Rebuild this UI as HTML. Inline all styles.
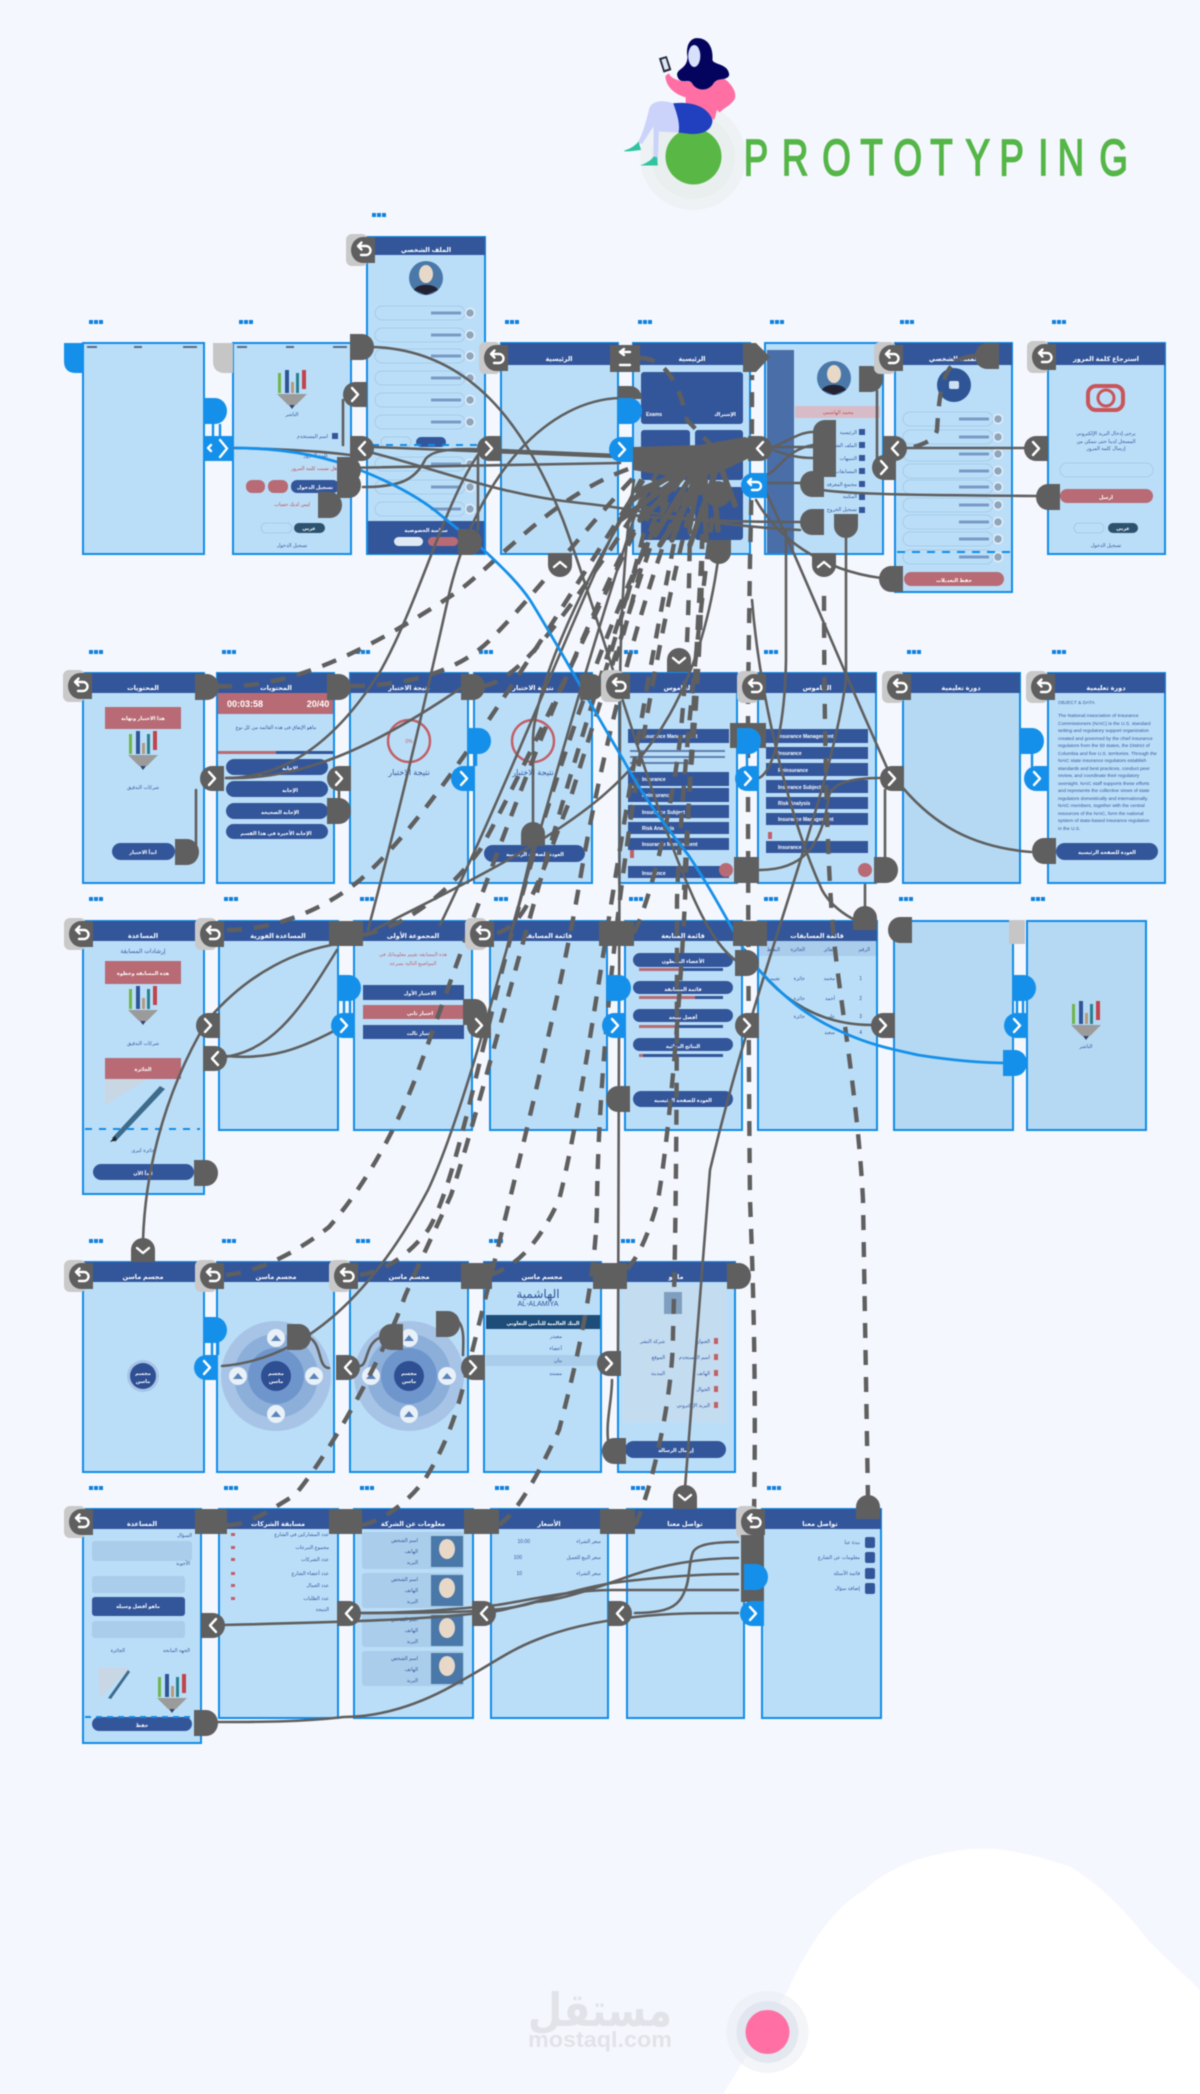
<!DOCTYPE html>
<html lang="en"><head><meta charset="utf-8"><title>Prototyping</title>
<style>
html,body{margin:0;padding:0;background:#F5F7FE}
svg{display:block;filter:blur(.55px)}
text{font-family:"Liberation Sans","DejaVu Sans",sans-serif}
.s{fill:#BBDEF8;stroke:#108CE8;stroke-width:2}
.h{fill:#33569B}
.p{fill:#33569B}
.r{fill:#B86B74}
.t{fill:#fff;font-size:6.5px;font-weight:700;text-anchor:middle}
.k{fill:#33569B;font-size:5px;text-anchor:end}
.w{fill:#fff;font-size:5px;font-weight:700;text-anchor:middle}
.c{fill:none;stroke:#5f5f5f;stroke-width:2.6;stroke-linecap:round}
.d{fill:none;stroke:#5f5f5f;stroke-width:4.4;stroke-dasharray:15 12}
.f{fill:none;stroke:#a5cbe8;stroke-width:1}
.l{fill:none;stroke:#fff;stroke-width:2.4;stroke-linecap:round;stroke-linejoin:round}
</style></head><body>
<svg xmlns="http://www.w3.org/2000/svg" width="1200" height="2094" viewBox="0 0 1200 2094">
<defs>
<g id="dots"><rect x="0" width="4" height="4" fill="#0f82e0"/><rect x="5" width="4" height="4" fill="#0f82e0"/><rect x="10" width="4" height="4" fill="#0f82e0"/></g>
<path id="nr" d="M0 0H12a12 13 0 0 1 0 26H0Z" fill="#5f5f5f"/>
<path id="nl" d="M24 0H12a12 13 0 0 0 0 26H24Z" fill="#5f5f5f"/>
<path id="nt" d="M0 24V12a12 12 0 0 1 24 0V24Z" fill="#5f5f5f"/>
<path id="nb" d="M0 0V12a12 12 0 0 0 24 0V0Z" fill="#5f5f5f"/>
<g id="chr"><path d="M12 0H24V25H12a12 12.5 0 0 1 0-25Z" fill="#5f5f5f"/><path class="l" d="M9 6l6 6.500-6 6.500"/></g>
<g id="chl"><path d="M12 0H0V25H12a12 12.500 0 0 0 0-25Z" fill="#5f5f5f"/><path class="l" d="M15 6l-6 6.500 6 6.500"/></g>
<g id="chd"><path d="M0 24V12a12 12 0 0 1 24 0V24Z" fill="#5f5f5f"/><path class="l" d="M6 10l6 5 6-5"/></g>
<g id="chu"><path d="M0 0V12a12 12 0 0 0 24 0V0Z" fill="#5f5f5f"/><path class="l" d="M6 14l6-5 6 5"/></g>
<g id="bk"><rect x="-5" y="-3" width="22" height="32" rx="6" fill="#c9c9c9"/><path d="M24 0H12a12 13 0 0 0 0 26H24Z" fill="#5f5f5f"/><path class="l" d="M7 9h8a4.500 4.500 0 0 1 0 9h-5M7 9l3.500-3.500M7 9l3.500 3.500" stroke-width="2"/></g>
<g id="bchr"><path d="M12 0H24V25H12a12 12.500 0 0 1 0-25Z" fill="#1590ea"/><path class="l" d="M10 6l6 6.500-6 6.500"/></g>
<path id="bd" d="M0 0H12a12 13 0 0 1 0 26H0Z" fill="#1590ea"/>
<g id="logo"><rect x="-14" y="4" width="3" height="20" fill="#6fb54a"/><rect x="-7" y="1" width="4" height="23" fill="#2f5597"/><rect x="-1" y="13" width="3" height="11" fill="#b59a7c"/><rect x="4" y="4" width="3" height="20" fill="#2a7f8f"/><rect x="10" y="1" width="4" height="19" fill="#c0444a"/><path d="M-15 25H15L4 36H-4Z" fill="#9b9b9b"/><path d="M-3 36H3L0 40Z" fill="#39456a"/></g>
<g id="fld"><rect class="f" width="90" height="14" rx="7"/><circle cx="95" cy="7" r="4.500" fill="#8ea6bd" stroke="#e4eef7" stroke-width="1.500"/><rect x="56" y="5.500" width="30" height="3" fill="#4c6da4" opacity=".6"/></g>
<g id="rings"><circle r="55" fill="#a7c4e6"/><circle r="42" fill="#8cafda"/><circle r="28" fill="#6f96cc"/><circle r="15" fill="#2f4f93"/><g fill="#e8f0f8"><circle cy="-38" r="9"/><circle cy="38" r="9"/><circle cx="-38" r="9"/><circle cx="38" r="9"/></g><g fill="#5b82ba"><path d="M-5 -35h10l-5 -6z"/><path d="M-5 41h10l-5 -6z"/><path d="M-43 3h10l-5 -6z"/><path d="M33 3h10l-5 -6z"/></g><text class="w" y="-1">مجسم</text><text class="w" y="7">ماسن</text></g>
</defs>

<rect width="1200" height="2094" fill="#F5F7FE"/>
<path d="M723 2094L788 1990C805 1950 835 1905 865 1890C885 1870 915 1858 949 1852C965 1849 980 1848 995 1849C1025 1852 1050 1860 1071 1867C1100 1885 1125 1910 1148 1940C1165 1958 1185 1975 1200 1990V2094Z" fill="#fff"/>

<!-- hero -->
<circle cx="693" cy="157" r="53" fill="#eef2f5"/><circle cx="693" cy="157" r="42" fill="#e9efee"/>
<circle cx="693.500" cy="156.500" r="28" fill="#59B845"/>
<g transform="translate(600 20) scale(.357 .333)">
<path d="M183 168L193 160C200 180 230 185 250 185L320 185L332 170C360 175 385 215 378 235C370 255 345 265 335 278L328 270L320 300L240 250L240 232C215 225 185 205 183 168Z" fill="#FF6FA3"/>
<path d="M205 250C170 238 145 245 138 265C128 310 120 340 105 370L118 372C132 350 140 335 150 320L150 420L162 420L165 335L220 338C225 310 215 280 205 250Z" fill="#CBD3FA"/>
<path d="M205 250C250 245 300 255 315 300C315 330 290 345 250 342L220 338C225 310 215 280 205 250Z" fill="#2040C0"/>
<path d="M68 392C90 385 100 375 108 365L115 390C100 392 85 396 68 394Z" fill="#2EC4A0"/><path d="M112 437C130 430 145 420 150 410L160 412L162 437Z" fill="#2EC4A0"/>
<path d="M265 55C300 50 318 80 315 120C318 135 360 130 362 165C355 185 330 170 318 190C305 215 270 215 258 190C250 175 225 195 217 170C210 145 245 150 245 110C240 80 250 60 265 55Z" fill="#04045E"/>
<ellipse cx="264" cy="108" rx="17" ry="33" fill="#d6e2fb"/>
<path d="M165 115L187 108L200 150L178 158Z" fill="#2a2a3a"/><path d="M172 119L184 115L193 146L181 150Z" fill="#dce6f5"/>
</g>
<g transform="scale(.72 1)" fill="#55B648" stroke="#55B648" stroke-width="1.700" font-size="51" font-weight="400"><text y="175" x="1033 1086 1142 1195 1241 1292 1341 1388 1442 1469 1527">PROTOTYPING</text></g>

<!-- dots -->
<g>
<use href="#dots" x="89" y="320"/><use href="#dots" x="239" y="320"/><use href="#dots" x="372" y="213"/><use href="#dots" x="505" y="320"/><use href="#dots" x="638" y="320"/><use href="#dots" x="770" y="320"/><use href="#dots" x="900" y="320"/><use href="#dots" x="1052" y="320"/>
<use href="#dots" x="89" y="650"/><use href="#dots" x="222" y="650"/><use href="#dots" x="356" y="650"/><use href="#dots" x="479" y="650"/><use href="#dots" x="624" y="650"/><use href="#dots" x="764" y="650"/><use href="#dots" x="907" y="650"/><use href="#dots" x="1052" y="650"/>
<use href="#dots" x="89" y="897"/><use href="#dots" x="224" y="897"/><use href="#dots" x="360" y="897"/><use href="#dots" x="494" y="897"/><use href="#dots" x="629" y="897"/><use href="#dots" x="764" y="897"/><use href="#dots" x="899" y="897"/><use href="#dots" x="1031" y="897"/>
<use href="#dots" x="89" y="1239"/><use href="#dots" x="222" y="1239"/><use href="#dots" x="356" y="1239"/><use href="#dots" x="489" y="1239"/><use href="#dots" x="621" y="1239"/>
<use href="#dots" x="89" y="1486"/><use href="#dots" x="224" y="1486"/><use href="#dots" x="360" y="1486"/><use href="#dots" x="495" y="1486"/><use href="#dots" x="631" y="1486"/><use href="#dots" x="767" y="1486"/>
</g>

<!-- ROW 1 screens -->
<rect class="s" x="83" y="343" width="121" height="211"/><rect x="87" y="346" width="10" height="2" fill="#5a6a86"/><rect x="134" y="346" width="8" height="2" fill="#5a6a86"/><rect x="183" y="346" width="14" height="2" fill="#5a6a86"/>
<rect class="s" x="233" y="343" width="118" height="211"/><rect x="237" y="346" width="10" height="2" fill="#5a6a86"/><rect x="286" y="346" width="8" height="2" fill="#5a6a86"/><rect x="333" y="346" width="14" height="2" fill="#5a6a86"/>
<use href="#logo" x="292" y="369"/><text class="k" style="text-anchor:middle" x="292" y="416">الناشر</text>
<rect x="332" y="433" width="6" height="6" fill="#33569B"/><text class="k" x="328" y="438">اسم المستخدم</text><text class="k" x="328" y="457">كلمة المرور</text>
<text class="k" style="fill:#c24a4a" x="337" y="470">هل نسيت كلمة المرور</text>
<rect class="r" x="246" y="480" width="19" height="13" rx="6"/><rect class="r" x="268" y="480" width="20" height="13" rx="6"/><rect class="p" x="291" y="480" width="48" height="13" rx="6"/><text class="w" x="315" y="489">تسجيل الدخول</text>
<text class="k" style="fill:#c24a4a" x="310" y="506">ليس لديك حساب</text>
<rect class="f" x="261" y="523" width="31" height="10" rx="5" stroke="#4a6a9a"/><rect x="294" y="523" width="31" height="10" rx="5" fill="#2c5270"/><text class="w" x="309" y="530">عربي</text>
<text class="k" style="text-anchor:middle" x="292" y="547">تسجيل الدخول</text>

<rect class="s" x="367" y="237" width="118" height="317"/><rect class="h" x="367" y="237" width="118" height="18"/><text class="t" x="426" y="252">الملف الشخصي</text>
<circle cx="426" cy="278" r="17" fill="#4a78a8"/><ellipse cx="426" cy="274" rx="7" ry="9" fill="#e8d8c8"/><path d="M414 290c3-7 21-7 24 0l-12 5z" fill="#223"/>
<use href="#fld" x="375" y="306"/><use href="#fld" x="375" y="328"/><use href="#fld" x="375" y="349"/><use href="#fld" x="375" y="371"/><use href="#fld" x="375" y="393"/><use href="#fld" x="375" y="415"/><use href="#fld" x="375" y="457"/><use href="#fld" x="375" y="480"/><use href="#fld" x="375" y="502"/>
<rect class="f" x="381" y="437" width="30" height="10" rx="5"/><rect class="p" x="416" y="437" width="30" height="10" rx="5"/>
<path d="M372 445H480" stroke="#108CE8" stroke-width="2" stroke-dasharray="7 7"/>
<rect x="368" y="521" width="116" height="33" fill="#33569B"/><text class="w" x="426" y="532">سياسة الخصوصية</text><rect x="394" y="537" width="29" height="9" rx="4.500" fill="#dfe9f4"/><rect x="428" y="537" width="30" height="9" rx="4.500" fill="#b86b74"/>

<rect class="s" x="501" y="343" width="117" height="211"/><rect class="h" x="501" y="343" width="117" height="22"/><text class="t" x="559" y="361">الرئيسية</text>

<rect class="s" x="633" y="343" width="117" height="211"/><rect class="h" x="633" y="343" width="117" height="22"/><text class="t" x="692" y="361">الرئيسية</text>
<rect class="p" x="641" y="372" width="102" height="52" rx="3"/><text class="w" x="725" y="416">الإشتراك</text><text class="w" x="654" y="416">Exams</text>
<rect class="p" x="641" y="430" width="49" height="50" rx="3"/><rect class="p" x="695" y="430" width="48" height="50" rx="3"/>
<rect class="p" x="641" y="487" width="49" height="53" rx="3"/><rect class="p" x="695" y="487" width="48" height="53" rx="3"/>

<rect class="s" x="765" y="343" width="118" height="211"/><rect x="767" y="350" width="27" height="203" fill="#4a6ea8"/>
<circle cx="834" cy="378" r="17" fill="#4a78a8"/><ellipse cx="834" cy="374" rx="7" ry="9" fill="#e8d8c8"/><path d="M822 390c3-7 21-7 24 0l-12 5z" fill="#223"/>
<rect x="795" y="406" width="85" height="12" fill="#d7bcc8"/><text class="k" style="fill:#c24a4a;text-anchor:middle" x="838" y="414">محمد الهاشمي</text>
<g class="k"><text class="k" x="857" y="434">الرئيسية</text><text class="k" x="857" y="447">الملف الشخصي</text><text class="k" x="857" y="460">التنبيهات</text><text class="k" x="857" y="473">المسابقات</text><text class="k" x="857" y="486">مجتمع المعرفة</text><text class="k" x="857" y="498">المكتبة</text><text class="k" x="857" y="511">تسجيل الخروج</text></g>
<g fill="#33569B"><rect x="859" y="429" width="6" height="6"/><rect x="859" y="442" width="6" height="6"/><rect x="859" y="455" width="6" height="6"/><rect x="859" y="468" width="6" height="6"/><rect x="859" y="481" width="6" height="6"/><rect x="859" y="494" width="6" height="6"/><rect x="859" y="507" width="6" height="6"/></g>

<rect class="s" x="895" y="343" width="117" height="249"/><rect class="h" x="895" y="343" width="117" height="22"/><text class="t" x="954" y="361">الملف الشخصي</text>
<circle cx="954" cy="385" r="17" fill="#2f5597"/><rect x="949" y="381" width="10" height="8" rx="2" fill="#cfe0f2"/>
<use href="#fld" x="903" y="412"/><use href="#fld" x="903" y="430"/><use href="#fld" x="903" y="447"/><use href="#fld" x="903" y="464"/><use href="#fld" x="903" y="480"/><use href="#fld" x="903" y="498"/><use href="#fld" x="903" y="515"/><use href="#fld" x="903" y="532"/><use href="#fld" x="903" y="550"/>
<path d="M897 552H1010" stroke="#108CE8" stroke-width="2" stroke-dasharray="8 7"/>
<rect class="r" x="904" y="572" width="100" height="14" rx="7"/><text class="w" x="954" y="582">حفظ التعديلات</text>

<rect class="s" x="1048" y="343" width="117" height="211"/><rect class="h" x="1048" y="343" width="117" height="22"/><text class="t" x="1106" y="361">استرجاع كلمة المرور</text>
<rect x="1088" y="386" width="35" height="24" rx="8" fill="none" stroke="#c8555a" stroke-width="4"/><circle cx="1106" cy="398" r="8" fill="none" stroke="#c8555a" stroke-width="3"/>
<text class="k" style="text-anchor:middle" x="1106" y="435">يرجى إدخال البريد الإلكتروني</text><text class="k" style="text-anchor:middle" x="1106" y="443">المسجل لدينا حتى نتمكن من</text><text class="k" style="text-anchor:middle" x="1106" y="450">إرسال كلمة المرور</text>
<rect class="f" x="1060" y="463" width="93" height="14" rx="7"/><rect class="r" x="1060" y="489" width="93" height="14" rx="7"/><text class="w" x="1106" y="499">ارسل</text>
<rect class="f" x="1074" y="523" width="30" height="10" rx="5"/><rect x="1108" y="523" width="30" height="10" rx="5" fill="#2c5270"/><text class="w" x="1123" y="530">عربي</text><text class="k" style="text-anchor:middle" x="1106" y="547">تسجيل الدخول</text>

<!-- ROW 2 screens -->
<rect class="s" x="83" y="673" width="121" height="210"/><rect class="h" x="83" y="673" width="121" height="20"/><text class="t" x="143" y="690">المحتويات</text>
<rect class="r" x="105" y="707" width="76" height="22"/><text class="w" x="143" y="720">هذا الاختبار ونهاية</text><use href="#logo" x="143" y="730"/><text class="k" style="text-anchor:middle" x="143" y="789">شركات التدقيق</text>
<rect class="p" x="112" y="843" width="63" height="17" rx="8.500"/><text class="w" x="143" y="854">ابدأ الاختبار</text>

<rect class="s" x="217" y="673" width="117" height="210"/><rect class="h" x="217" y="673" width="117" height="20"/><text class="t" x="276" y="690">المحتويات</text>
<rect class="r" x="218" y="693" width="115" height="21"/><text class="w" style="font-size:9px" x="245" y="707">00:03:58</text><text class="w" style="font-size:9px" x="318" y="707">20/40</text>
<text class="k" style="text-anchor:middle" x="276" y="729">ماهو الإنفاق في هذه القائمة من كل نوع</text>
<rect x="218" y="751" width="115" height="3" fill="#33569B"/><rect x="218" y="751" width="58" height="3" fill="#b86b74"/>
<rect class="p" x="226" y="759" width="102" height="16" rx="8"/><rect class="p" x="226" y="781" width="102" height="16" rx="8"/><rect class="p" x="226" y="803" width="102" height="16" rx="8"/><rect class="p" x="226" y="824" width="102" height="15" rx="7.500"/>
<text class="w" x="290" y="770">الإجابة</text><text class="w" x="290" y="792">الإجابة</text><text class="w" x="280" y="814">الإجابة الصحيحة</text><text class="w" x="276" y="835">الإجابة الأخيرة في هذا القسم</text>

<rect class="s" x="350" y="673" width="118" height="210"/><rect class="h" x="350" y="673" width="118" height="20"/><text class="t" x="409" y="690">نتيجة الاختبار</text>
<circle cx="409" cy="741" r="21" fill="none" stroke="#c25f66" stroke-width="2.500"/><text class="k" style="fill:#c25f66;text-anchor:middle" x="409" y="743">0%</text><text style="fill:#33569B;font-size:8px;text-anchor:middle" x="409" y="775">نتيجة الاختبار</text>

<rect class="s" x="474" y="673" width="118" height="210"/><rect class="h" x="474" y="673" width="118" height="20"/><text class="t" x="533" y="690">نتيجة الاختبار</text>
<circle cx="533" cy="741" r="21" fill="none" stroke="#c25f66" stroke-width="2.500"/><text style="fill:#33569B;font-size:8px;text-anchor:middle" x="533" y="775">نتيجة الاختبار</text>
<rect class="p" x="484" y="845" width="101" height="17" rx="8.500"/><text class="w" x="535" y="856">العودة للصفحة الرئيسية</text>

<rect class="s" x="619" y="673" width="118" height="210"/><rect class="h" x="619" y="673" width="118" height="20"/><text class="t" x="678" y="690">القاموس</text>
<g fill="#33569B"><rect x="628" y="729" width="101" height="14"/><rect x="628" y="772" width="101" height="14"/><rect x="628" y="788" width="101" height="14"/><rect x="628" y="805" width="101" height="13"/><rect x="628" y="822" width="101" height="12"/><rect x="628" y="838" width="101" height="12"/><rect x="628" y="866" width="101" height="12"/></g>
<g fill="#5f7fb0"><rect x="630" y="750" width="95" height="2"/><rect x="630" y="756" width="95" height="2"/><rect x="630" y="762" width="60" height="2"/></g>
<g style="font-size:5px" fill="#fff" font-weight="700"><text x="642" y="738">Insurance Management</text><text x="642" y="781">Insurance</text><text x="642" y="797">Reinsurance</text><text x="642" y="814">Insurance Subject</text><text x="642" y="830">Risk Analysis</text><text x="642" y="846">Insurance Management</text><text x="642" y="875">Insurance</text></g>
<rect x="630" y="850" width="4" height="8" fill="#c25f66"/><circle cx="726" cy="870" r="7" fill="#b86b74"/>

<rect class="s" x="758" y="673" width="118" height="210"/><rect class="h" x="758" y="673" width="118" height="20"/><text class="t" x="817" y="690">القاموس</text>
<g fill="#33569B"><rect x="766" y="729" width="102" height="14"/><rect x="766" y="747" width="102" height="12"/><rect x="766" y="763" width="102" height="13"/><rect x="766" y="780" width="102" height="13"/><rect x="766" y="797" width="102" height="12"/><rect x="766" y="813" width="102" height="12"/><rect x="766" y="841" width="102" height="12"/></g>
<g style="font-size:5px" fill="#fff" font-weight="700"><text x="778" y="738">Insurance Management</text><text x="778" y="755">Insurance</text><text x="778" y="772">Reinsurance</text><text x="778" y="789">Insurance Subject</text><text x="778" y="805">Risk Analysis</text><text x="778" y="821">Insurance Management</text><text x="778" y="849">Insurance</text></g>
<rect x="768" y="832" width="4" height="7" fill="#c25f66"/><circle cx="865" cy="870" r="7" fill="#b86b74"/>

<rect class="s" x="903" y="673" width="117" height="210" style="fill:#B5D9F3"/><rect class="h" x="903" y="673" width="117" height="20"/><text class="t" x="961" y="690">دورة تعليمية</text>

<rect class="s" x="1048" y="673" width="117" height="210"/><rect class="h" x="1048" y="673" width="117" height="20"/><text class="t" x="1106" y="690">دورة تعليمية</text>
<g fill="#33569B" font-size="4.800"><text x="1058" y="704">OBJECT &amp; DATA</text><text x="1058" y="717">The National Association of Insurance</text><text x="1058" y="725">Commissioners (NAIC) is the U.S. standard</text><text x="1058" y="732">setting and regulatory support organization</text><text x="1058" y="740">created and governed by the chief insurance</text><text x="1058" y="747">regulators from the 50 states, the District of</text><text x="1058" y="755">Columbia and five U.S. territories. Through the</text><text x="1058" y="762">NAIC state insurance regulators establish</text><text x="1058" y="770">standards and best practices, conduct peer</text><text x="1058" y="777">review, and coordinate their regulatory</text><text x="1058" y="785">oversight. NAIC staff supports these efforts</text><text x="1058" y="792">and represents the collective views of state</text><text x="1058" y="800">regulators domestically and internationally.</text><text x="1058" y="807">NAIC members, together with the central</text><text x="1058" y="815">resources of the NAIC, form the national</text><text x="1058" y="822">system of state-based insurance regulation</text><text x="1058" y="830">in the U.S.</text></g>
<rect class="p" x="1056" y="843" width="102" height="17" rx="8.500"/><text class="w" x="1107" y="854">العودة للصفحة الرئيسية</text>

<!-- ROW 3 screens -->
<rect class="s" x="83" y="921" width="121" height="273"/><rect class="h" x="83" y="921" width="121" height="20"/><text class="t" x="143" y="938">المساعدة</text>
<text style="fill:#33569B;font-size:6px;text-anchor:middle" x="143" y="953">إرشادات المسابقة</text>
<rect class="r" x="105" y="961" width="76" height="23"/><text class="w" x="143" y="975">هذه المسابقة وخطوة</text><use href="#logo" x="143" y="985"/><text class="k" style="text-anchor:middle" x="143" y="1045">شركات التدقيق</text>
<rect class="r" x="105" y="1058" width="76" height="21"/><text class="w" x="143" y="1071">الجائزة</text>
<path d="M105 1079H148L105 1105Z" fill="#c9d6e4"/><path d="M112 1138L160 1086L165 1089L115 1142Z" fill="#3d6c8c"/><path d="M110 1142L115 1136L117 1140Z" fill="#222"/>
<path d="M85 1129H200" stroke="#108CE8" stroke-width="2" stroke-dasharray="7 7"/><text class="k" style="text-anchor:middle" x="143" y="1152">جائزة كبرى</text>
<rect class="p" x="93" y="1164" width="101" height="16" rx="8"/><text class="w" x="143" y="1175">ابدأ الآن</text>

<rect class="s" x="219" y="921" width="119" height="209"/><rect class="h" x="219" y="921" width="119" height="20"/><text class="t" x="278" y="938">المساعدة الفورية</text>
<rect class="s" x="354" y="921" width="118" height="209"/><rect class="h" x="354" y="921" width="118" height="20"/><text class="t" x="413" y="938">المجموعة الأولى</text>
<text class="k" style="fill:#c25f66;text-anchor:middle" x="413" y="956">هذه المسابقة تقييم معلوماتك في</text><text class="k" style="fill:#c25f66;text-anchor:middle" x="413" y="965">المواضيع التالية بسرعة</text>
<rect class="p" x="363" y="985" width="101" height="15"/><rect class="r" x="363" y="1005" width="101" height="14"/><rect class="p" x="363" y="1025" width="101" height="14"/>
<text class="w" x="420" y="995">الاختبار الأول</text><text class="w" x="420" y="1015">اختبار ثاني</text><text class="w" x="420" y="1035">اختبار ثالث</text>

<rect class="s" x="490" y="921" width="117" height="209"/><rect class="h" x="490" y="921" width="117" height="20"/><text class="t" x="548" y="938">قائمة المسابقة</text>

<rect class="s" x="625" y="921" width="117" height="209"/><rect class="h" x="625" y="921" width="117" height="20"/><text class="t" x="683" y="938">قائمة المتابعة</text>
<rect class="p" x="633" y="953" width="100" height="14" rx="7"/><rect class="p" x="633" y="981" width="100" height="13" rx="6.500"/><rect class="p" x="633" y="1009" width="100" height="13" rx="6.500"/><rect class="p" x="633" y="1038" width="100" height="13" rx="6.500"/>
<text class="w" x="683" y="963">الأعضاء النشطون</text><text class="w" x="683" y="991">قائمة المسابقة</text><text class="w" x="683" y="1019">أفضل نتيجة</text><text class="w" x="683" y="1048">النتائج النهائية</text>
<rect x="639" y="968" width="84" height="3" fill="#33569B"/><rect x="639" y="968" width="42" height="3" fill="#b86b74"/><rect x="639" y="996" width="84" height="3" fill="#33569B"/><rect x="639" y="996" width="56" height="3" fill="#b86b74"/><rect x="639" y="1025" width="84" height="3" fill="#33569B"/><rect x="639" y="1025" width="40" height="3" fill="#b86b74"/><rect x="639" y="1054" width="84" height="3" fill="#33569B"/><rect x="639" y="1054" width="4" height="3" fill="#b86b74"/>
<rect class="p" x="633" y="1091" width="100" height="16" rx="8"/><text class="w" x="683" y="1102">العودة للصفحة الرئيسية</text>

<rect class="s" x="758" y="921" width="119" height="209"/><rect class="h" x="758" y="921" width="119" height="20"/><text class="t" x="817" y="938">قائمة المسابقات</text>
<rect x="759" y="941" width="117" height="15" fill="#a9cdea"/>
<g class="k"><text class="k" x="870" y="951">الرقم</text><text class="k" x="835" y="951">الفائز</text><text class="k" x="805" y="951">الجائزة</text><text class="k" x="780" y="951">النقاط</text><text class="k" x="862" y="980">1</text><text class="k" x="835" y="980">محمد</text><text class="k" x="805" y="980">جائزة</text><text class="k" x="780" y="980">تقييم</text><text class="k" x="862" y="1000">2</text><text class="k" x="835" y="1000">أحمد</text><text class="k" x="805" y="1000">جائزة</text><text class="k" x="862" y="1018">3</text><text class="k" x="835" y="1018">علي</text><text class="k" x="805" y="1018">جائزة</text><text class="k" x="862" y="1034">4</text><text class="k" x="835" y="1034">سعيد</text></g>

<rect class="s" x="894" y="921" width="119" height="209" style="fill:#B5D9F3"/>
<rect class="s" x="1027" y="921" width="119" height="209" style="fill:#B5D9F3"/><use href="#logo" x="1086" y="1000"/><text class="k" style="text-anchor:middle" x="1086" y="1048">الناشر</text>

<!-- ROW 4 screens -->
<rect class="s" x="83" y="1262" width="121" height="210"/><rect class="h" x="83" y="1262" width="121" height="20"/><text class="t" x="143" y="1279">مجسم ماسن</text>
<circle cx="143" cy="1376" r="16" fill="#a7c4e6"/><circle cx="143" cy="1376" r="13" fill="#2f4f93"/><text class="w" x="143" y="1375">مجسم</text><text class="w" x="143" y="1383">ماسن</text>
<rect class="s" x="217" y="1262" width="117" height="210"/><rect class="h" x="217" y="1262" width="117" height="20"/><text class="t" x="276" y="1279">مجسم ماسن</text>
<use href="#rings" x="276" y="1376"/>
<rect class="s" x="350" y="1262" width="118" height="210"/><rect class="h" x="350" y="1262" width="118" height="20"/><text class="t" x="409" y="1279">مجسم ماسن</text>
<use href="#rings" x="409" y="1376"/>
<rect class="s" x="484" y="1262" width="117" height="210"/><rect class="h" x="484" y="1262" width="117" height="20"/><text class="t" x="542" y="1279">مجسم ماسن</text>
<text style="fill:#2f5597;font-size:12px;text-anchor:middle" x="538" y="1298">الهاشمية</text><text style="fill:#2f5597;font-size:7px;text-anchor:middle" x="538" y="1306">AL-ALAMIYA</text>
<rect x="486" y="1315" width="114" height="14" fill="#1e4d7a"/><text class="w" x="543" y="1325">البنك العالمية للتأمين التعاوني</text>
<rect x="486" y="1355" width="114" height="11" fill="#a9cdea"/>
<text class="k" x="562" y="1338">مصدر</text><text class="k" x="562" y="1350">أعضاء</text><text class="k" x="562" y="1362">بيان</text><text class="k" x="562" y="1375">مستند</text>
<rect class="s" x="618" y="1262" width="117" height="210"/><rect class="h" x="618" y="1262" width="117" height="20"/><text class="t" x="676" y="1279">ماهو</text>
<rect x="623" y="1285" width="103" height="137" fill="#c4dcf0"/><rect x="664" y="1292" width="18" height="22" fill="#7f9fbf"/>
<g class="k"><text class="k" x="710" y="1343">العنوان</text><text class="k" x="710" y="1359">اسم المستخدم</text><text class="k" x="710" y="1375">الهاتف</text><text class="k" x="710" y="1391">الجوال</text><text class="k" x="710" y="1407">البريد الإلكتروني</text><text class="k" x="665" y="1343">شركة النشر</text><text class="k" x="665" y="1359">الموقع</text><text class="k" x="665" y="1375">المدينة</text></g>
<g fill="#c25f66"><rect x="714" y="1338" width="4" height="6"/><rect x="714" y="1354" width="4" height="6"/><rect x="714" y="1370" width="4" height="6"/><rect x="714" y="1386" width="4" height="6"/><rect x="714" y="1402" width="4" height="6"/></g>
<rect class="p" x="625" y="1441" width="101" height="17" rx="8.500"/><text class="w" x="676" y="1452">إرسال الرسالة</text>

<!-- ROW 5 screens -->
<rect class="s" x="83" y="1509" width="118" height="234"/><rect class="h" x="83" y="1509" width="118" height="20"/><text class="t" x="142" y="1526">المساعدة</text>
<text class="k" x="192" y="1537">السؤال</text><rect x="92" y="1541" width="100" height="20" rx="3" fill="#a9cdea"/><text class="k" x="190" y="1565">الأجوبة</text>
<rect x="92" y="1576" width="93" height="17" rx="3" fill="#a9cdea"/><rect class="p" x="92" y="1597" width="93" height="19" rx="3"/><text class="w" x="138" y="1608">ماهو أفضل وسيلة</text><rect x="92" y="1621" width="93" height="17" rx="3" fill="#a9cdea"/>
<text class="k" x="190" y="1652">الجهة المانحة</text><text class="k" x="125" y="1652">الجائزة</text><use href="#logo" x="172" y="1673"/><path d="M98 1668L130 1668L100 1698Z" fill="#c9d6e4"/><path d="M108 1698L128 1670L130 1672L111 1699Z" fill="#3d6c8c"/>
<rect class="p" x="92" y="1717" width="100" height="14" rx="7"/><text class="w" x="142" y="1727">حفظ</text><path d="M85 1717H200" stroke="#108CE8" stroke-width="2" stroke-dasharray="6 5"/>

<rect class="s" x="219" y="1509" width="119" height="209"/><rect class="h" x="219" y="1509" width="119" height="20"/><text class="t" x="278" y="1526">مسابقة الشركات</text>
<g class="k"><text class="k" x="329" y="1536">عدد المشاركين في الشارع</text><text class="k" x="329" y="1549">مجموع التبرعات</text><text class="k" x="329" y="1561">عدد الشركات</text><text class="k" x="329" y="1575">عدد أعضاء الشارع</text><text class="k" x="329" y="1587">عدد العمال</text><text class="k" x="329" y="1600">عدد الطلبات</text><text class="k" x="329" y="1611">النتيجة</text></g>
<g fill="#c25f66"><rect x="231" y="1533" width="4" height="3"/><rect x="231" y="1546" width="4" height="3"/><rect x="231" y="1558" width="4" height="3"/><rect x="231" y="1572" width="4" height="3"/><rect x="231" y="1584" width="4" height="3"/><rect x="231" y="1597" width="4" height="3"/></g>

<rect class="s" x="354" y="1509" width="119" height="209"/><rect class="h" x="354" y="1509" width="119" height="20"/><text class="t" x="413" y="1526">معلومات عن الشركة</text>
<g fill="#a9cdea"><rect x="362" y="1532" width="102" height="37" rx="3"/><rect x="362" y="1573" width="102" height="35" rx="3"/><rect x="362" y="1612" width="102" height="35" rx="3"/><rect x="362" y="1651" width="102" height="35" rx="3"/></g>
<g fill="#4a78a8"><rect x="431" y="1536" width="32" height="31"/><rect x="431" y="1575" width="32" height="31"/><rect x="431" y="1615" width="32" height="31"/><rect x="431" y="1653" width="32" height="31"/></g>
<g fill="#e8d8c8"><ellipse cx="447" cy="1549" rx="8" ry="10"/><ellipse cx="447" cy="1588" rx="8" ry="10"/><ellipse cx="447" cy="1628" rx="8" ry="10"/><ellipse cx="447" cy="1666" rx="8" ry="10"/></g>
<g class="k"><text class="k" x="418" y="1542">اسم الشخص</text><text class="k" x="418" y="1553">الهاتف</text><text class="k" x="418" y="1564">البريد</text><text class="k" x="418" y="1581">اسم الشخص</text><text class="k" x="418" y="1592">الهاتف</text><text class="k" x="418" y="1603">البريد</text><text class="k" x="418" y="1621">اسم الشخص</text><text class="k" x="418" y="1632">الهاتف</text><text class="k" x="418" y="1643">البريد</text><text class="k" x="418" y="1660">اسم الشخص</text><text class="k" x="418" y="1671">الهاتف</text><text class="k" x="418" y="1682">البريد</text></g>

<rect class="s" x="491" y="1509" width="117" height="209"/><rect class="h" x="491" y="1509" width="117" height="20"/><text class="t" x="549" y="1526">الأسعار</text>
<g class="k"><text class="k" x="601" y="1543">سعر الشراء</text><text class="k" x="601" y="1559">سعر البيع للعميل</text><text class="k" x="601" y="1575">سعر الشراء</text><text class="k" x="530" y="1543">10.00</text><text class="k" x="522" y="1559">100</text><text class="k" x="522" y="1575">10</text></g>

<rect class="s" x="627" y="1509" width="117" height="209"/><rect class="h" x="627" y="1509" width="117" height="20"/><text class="t" x="685" y="1526">تواصل معنا</text>

<rect class="s" x="762" y="1509" width="119" height="209"/><rect class="h" x="762" y="1509" width="119" height="20"/><text class="t" x="820" y="1526">تواصل معنا</text>
<g class="k"><text class="k" x="860" y="1544">نبذة عنا</text><text class="k" x="860" y="1559">معلومات عن الشارع</text><text class="k" x="860" y="1575">قائمة الأسئلة</text><text class="k" x="860" y="1590">إضافة سؤال</text></g>
<g fill="#33569B"><rect x="865" y="1537" width="10" height="11" rx="2"/><rect x="865" y="1552" width="10" height="11" rx="2"/><rect x="865" y="1568" width="10" height="11" rx="2"/><rect x="865" y="1583" width="10" height="11" rx="2"/></g>

<!-- connectors: dashed -->
<g class="d">
<path class="d" d="M217 686C290 690 370 650 460 590C510 550 560 490 640 465"/>
<path class="d" d="M350 686C410 686 460 670 490 640C540 590 590 520 660 450"/>
<path class="d" d="M483 686C520 680 560 620 610 550C630 520 650 490 665 455"/>
<path class="d" d="M606 686C620 660 640 560 670 470"/>
<path class="d" d="M227 930C280 930 330 905 360 880C440 810 540 640 650 470"/>
<path class="d" d="M363 935C410 925 450 890 480 850C530 760 600 600 665 470"/>
<path class="d" d="M497 933C530 925 545 860 570 800C600 700 640 580 675 470"/>
<path class="d" d="M634 933C650 900 670 820 680 740C690 640 690 540 690 470"/>
<path class="d" d="M226 1275C260 1272 300 1250 329 1227C370 1180 400 1120 417 1074C470 930 560 660 660 480"/>
<path class="d" d="M227 1525C250 1525 270 1510 295 1495C340 1440 390 1340 405 1296C425 1250 440 1220 451 1195C490 1080 580 700 670 480"/>
<path class="d" d="M360 1275C380 1272 405 1260 428 1230C450 1195 470 1100 490 1020C530 850 600 620 680 480"/>
<path class="d" d="M490 1275C520 1265 540 1240 559 1200C590 1080 620 800 685 490"/>
<path class="d" d="M362 1525C385 1520 410 1500 425 1479C450 1440 460 1400 467 1372C510 1200 560 1000 580 880C600 760 640 600 680 500"/>
<path class="d" d="M499 1525C520 1510 540 1470 559 1430C580 1350 597 1270 597 1200C600 1000 640 700 695 490"/>
<path class="d" d="M627 1269C640 1255 650 1230 658 1200C670 1130 680 1000 685 900C690 750 700 600 705 480"/>
<path class="d" d="M635 1525C650 1495 673 1400 673 1334C677 1200 677 1000 677 900C680 800 700 600 715 500"/>
<path class="d" d="M754 1514C756 1400 754 1300 750 1200C748 1000 748 800 748 700L750 560C752 480 752 430 752 375"/>
<path class="d" d="M868 1500L863 1200C858 1100 840 1000 834 940C826 860 824 700 824 585"/>
<path class="d" d="M640 358C665 358 680 385 687 420L713 447"/>
<path class="d" d="M975 356C945 358 940 380 937 430C935 440 925 445 895 452"/>
<path class="d" d="M700 480C705 560 700 640 695 720C690 780 686 840 684 890"/>
<path class="d" d="M655 480C640 560 620 620 600 690"/>
</g>
<!-- hub -->
<path d="M633 447L700 445L745 437L773 447L745 460L720 472L680 478L633 470Z" fill="#5f5f5f"/>
<g fill="none" stroke="#5f5f5f" stroke-width="5.500" stroke-linecap="round">
<path d="M690 470L640 520M695 470L655 535M698 470L672 540M700 470L690 525M705 470L706 540M712 470L718 530M720 465L735 505M700 465L640 490M690 470L620 520M680 470L632 500M708 470L660 545M716 470L690 545"/>
</g>
<!-- connectors: solid -->
<g>
<path class="c" d="M235 448C280 449 320 451 350 455"/>
<path class="c" d="M373 347C470 350 525 425 563 520C600 620 650 800 690 890C705 925 720 950 738 962"/>
<path class="c" d="M620 398C550 400 480 470 450 590C430 680 400 810 368 930"/>
<path class="c" d="M226 778C300 778 350 720 381 670C420 600 445 500 480 452"/>
<path class="c" d="M226 778C300 780 370 750 464 686"/>
<path class="c" d="M373 447L617 457"/>
<path class="c" d="M373 453C440 470 500 495 580 503C650 510 700 525 800 530"/>
<path class="c" d="M343 468L620 463"/>
<path class="c" d="M363 487C400 487 415 480 425 460C432 448 460 448 500 450L617 455"/>
<path class="c" d="M343 400V445M478 455V530"/>
<path class="c" d="M634 480C625 540 620 620 620 700L618 1353"/>
<path class="c" d="M846 537V680C830 800 760 960 710 1170L685 1488"/>
<path class="c" d="M786 530V660C785 720 775 770 759 778"/>
<path class="c" d="M222 1366C300 1360 370 1300 428 1190C480 1080 540 800 640 500"/>
<path class="c" d="M143 1240C145 1180 160 1100 207 1021C250 970 300 950 337 944"/>
<path class="c" d="M210 1058C270 1058 300 1010 337 950"/>
<path class="c" d="M226 1056C270 1060 300 1050 345 1025"/>
<path class="c" d="M374 930C430 900 520 860 589 807C650 760 700 690 718 560"/>
<path class="c" d="M640 480C590 570 520 760 440 925"/>
<path class="c" d="M533 825V740C533 700 570 600 640 490"/>
<path class="c" d="M533 845C525 880 518 910 510 935"/>
<path class="c" d="M752 600C760 700 790 820 822 890C830 905 845 915 855 920"/>
<path class="c" d="M760 480C790 540 830 640 888 770"/>
<path class="c" d="M872 1025C810 1025 770 990 745 950"/>
<path class="c" d="M895 448H1025"/>
<path class="c" d="M822 490C850 494 900 495 1036 496"/>
<path class="c" d="M630 515C680 520 730 522 800 522"/>
<path class="c" d="M756 500C777 537 820 570 881 578"/>
<path class="c" d="M773 447C790 440 800 432 813 432M773 447H813M773 450C790 456 800 458 813 458M766 475C780 470 785 450 813 445M766 483H800"/>
<path class="c" d="M877 391V470M865 885V908"/>
<path class="c" d="M196 790V850M339 790V800"/>
<path class="c" d="M903 788C933 823 970 847 1031 852"/>
<path class="c" d="M759 870C800 870 822 850 829 795C835 780 860 778 881 778"/>
<path class="c" d="M885 790V860"/>
<path class="c" d="M310 1338C322 1345 318 1368 329 1368"/>
<path class="c" d="M379 1338C365 1345 368 1365 360 1366"/>
<path class="c" d="M459 1322C465 1330 463 1345 463 1355"/>
<path class="c" d="M612 1380C612 1400 606 1420 608 1440"/>
<path class="c" d="M738 1542C710 1542 697 1545 693 1552C688 1565 690 1580 685 1590C680 1605 670 1613 635 1613"/>
<path class="c" d="M738 1558C700 1558 660 1565 627 1577C590 1590 560 1600 536 1602C510 1610 480 1613 360 1613"/>
<path class="c" d="M738 1574C690 1574 650 1578 612 1583C570 1590 530 1605 497 1611C450 1617 400 1621 222 1625"/>
<path class="c" d="M738 1590H612C570 1590 530 1600 497 1605C450 1610 400 1613 360 1613"/>
<path class="c" d="M738 1613C700 1613 670 1613 635 1617C590 1622 560 1630 536 1640C510 1650 490 1665 459 1682C420 1705 380 1717 344 1717C300 1722 260 1722 218 1722"/>
</g>
<g fill="none" stroke="#1590ea" stroke-width="2.400"><path d="M213 424V436M220 424V436M344 1000V1013M350 1000V1013M619 1000V1013M1017 1000V1013M1023 1000V1013M212 1342V1355M218 1342V1355M476 754V766M747 753V767M1032 753V767M750 1590V1601M756 1590V1601"/></g>
<path d="M235 448C290 448 330 458 360 470C390 482 420 497 443 517C465 535 478 545 487 553C505 570 520 585 530 600C555 640 585 695 624 761C645 800 665 825 689 856C715 895 735 935 750 960C785 1000 810 1018 842 1032C870 1045 895 1050 918 1055C950 1060 980 1063 1008 1063" fill="none" stroke="#1590ea" stroke-width="2.800"/>

<!-- light tabs -->
<path d="M213 343H233V373H225Q213 373 213 361Z" fill="#c6c6c6"/>
<path d="M64 343H83V373H76Q64 373 64 361Z" fill="#1590ea"/>
<rect x="1009" y="920" width="16" height="24" fill="#c6c6c6"/>

<!-- blue hotspots -->
<use href="#bd" x="203" y="398"/><rect x="203" y="436" width="31" height="25" fill="#1590ea"/><path class="l" d="M220 440l7 8.500-7 8.500"/><path class="l" d="M211 445l-3 3 3 3" stroke-width="1.200"/>
<path d="M618 386H630a12 13 0 0 1 12 13V399H618Z" fill="#5f5f5f"/><use href="#bd" x="618" y="398"/><use href="#bchr" x="609" y="437"/>
<use href="#bd" x="467" y="728"/><use href="#bchr" x="451" y="766"/>
<rect x="730" y="723" width="36" height="25" fill="#5f5f5f"/><use href="#bd" x="737" y="728"/><use href="#bchr" x="735" y="766"/>
<use href="#bd" x="1020" y="728"/><use href="#bchr" x="1024" y="766"/>
<use href="#bd" x="337" y="975"/><use href="#bchr" x="331" y="1013"/>
<use href="#bd" x="607" y="975"/><use href="#bchr" x="602" y="1013"/>
<use href="#bd" x="1012" y="975"/><use href="#bchr" x="1004" y="1013"/>
<use href="#bd" x="1003" y="1050"/>
<use href="#bd" x="203" y="1317"/><use href="#bchr" x="194" y="1355"/>
<g><path d="M753 473H767V498H753a12 12.500 0 0 1 0-25Z" fill="#1590ea"/><path class="l" d="M748 482h9a4 4 0 0 1 0 8h-5M748 482l3-3M748 482l3 3" stroke-width="1.800"/></g>

<!-- gray nodes row 1 -->
<use href="#nr" x="350" y="334"/><use href="#chr" x="343" y="382"/><use href="#chl" x="350" y="436"/><use href="#chr" x="477" y="436"/>
<use href="#nr" x="337" y="457"/><use href="#nr" x="337" y="472"/><use href="#nr" x="318" y="492"/><use href="#nr" x="458" y="529"/>
<use href="#bk" x="351" y="237"/><use href="#bk" x="484" y="345"/>
<rect x="610" y="345" width="30" height="27" fill="#5f5f5f"/><path class="l" d="M620 352h10M620 352l4-3M620 352l4 3M620 365h10" stroke-width="1.800"/>
<path d="M743 343H756L770 357L756 372H743Z" fill="#5f5f5f"/>
<use href="#chl" x="748" y="436"/>
<path d="M825 420H836V477H813V432A12 12 0 0 1 825 420Z" fill="#5f5f5f"/>
<use href="#nl" x="800" y="471"/><use href="#nl" x="800" y="509"/><use href="#nb" x="834" y="514"/><use href="#chu" x="812" y="553"/>
<use href="#nr" x="859" y="366"/><use href="#bk" x="879" y="345"/><use href="#nl" x="975" y="343"/><path class="c" d="M975 356L955 360"/>
<use href="#chl" x="883" y="436"/><use href="#chr" x="872" y="455"/><use href="#chr" x="1024" y="436"/><use href="#nl" x="1036" y="484"/><use href="#bk" x="1032" y="344"/><use href="#nl" x="879" y="566"/>
<circle cx="718" cy="494" r="13" fill="#5f5f5f"/><use href="#nb" x="707" y="540"/><use href="#chu" x="548" y="553"/>
<!-- row 2 -->
<use href="#bk" x="68" y="673"/><use href="#nr" x="195" y="674"/><use href="#nr" x="327" y="674"/><use href="#nr" x="461" y="674"/><use href="#nr" x="580" y="674"/><use href="#bk" x="606" y="673"/><use href="#bk" x="742" y="674"/><use href="#bk" x="887" y="674"/><use href="#bk" x="1031" y="674"/>
<use href="#chr" x="200" y="766"/><use href="#chr" x="327" y="766"/><use href="#nr" x="327" y="798"/><use href="#nr" x="175" y="839"/><use href="#nt" x="521" y="822"/>
<use href="#chd" x="667" y="648"/><rect x="734" y="857" width="25" height="26" fill="#5f5f5f"/><use href="#nr" x="874" y="857"/><use href="#nl" x="1032" y="838"/><use href="#chr" x="880" y="766"/>
<use href="#nt" x="853" y="906"/><use href="#nl" x="888" y="917"/>
<!-- row 3 -->
<use href="#bk" x="69" y="921"/><use href="#bk" x="200" y="921"/><rect x="329" y="921" width="34" height="25" fill="#5f5f5f"/><use href="#bk" x="470" y="921"/><rect x="599" y="921" width="35" height="25" fill="#5f5f5f"/><rect x="733" y="921" width="34" height="25" fill="#5f5f5f"/>
<use href="#chr" x="196" y="1013"/><use href="#chl" x="203" y="1046"/><use href="#nr" x="463" y="999"/><use href="#chr" x="467" y="1013"/><use href="#chr" x="735" y="1013"/><use href="#nr" x="735" y="950"/><use href="#chr" x="871" y="1013"/><use href="#nl" x="606" y="1086"/><use href="#nr" x="194" y="1160"/>
<!-- row 4 -->
<use href="#chd" x="131" y="1238"/><use href="#bk" x="69" y="1263"/><use href="#bk" x="200" y="1263"/><use href="#bk" x="334" y="1263"/><rect x="461" y="1263" width="31" height="26" fill="#5f5f5f"/><rect x="593" y="1263" width="34" height="26" fill="#5f5f5f"/><use href="#nr" x="727" y="1263"/>
<use href="#nr" x="287" y="1324"/><use href="#nl" x="379" y="1324"/><use href="#nr" x="436" y="1311"/><use href="#chl" x="336" y="1355"/><use href="#chr" x="461" y="1355"/><use href="#chr" x="597" y="1351"/><use href="#nl" x="602" y="1438"/>
<!-- row 5 -->
<use href="#bk" x="69" y="1509"/><use href="#chd" x="673" y="1485"/><use href="#nt" x="856" y="1495"/><rect x="195" y="1509" width="32" height="25" fill="#5f5f5f"/><rect x="329" y="1509" width="33" height="25" fill="#5f5f5f"/><rect x="464" y="1509" width="35" height="25" fill="#5f5f5f"/><rect x="600" y="1509" width="35" height="25" fill="#5f5f5f"/><use href="#bk" x="741" y="1509"/>
<rect x="741" y="1535" width="23" height="67" fill="#5f5f5f"/>
<use href="#chl" x="201" y="1613"/><use href="#chl" x="337" y="1601"/><use href="#chl" x="472" y="1601"/><use href="#chl" x="608" y="1601"/><use href="#nr" x="194" y="1710"/>
<use href="#bd" x="744" y="1564"/><use href="#bchr" x="740" y="1601"/>

<!-- footer -->
<circle cx="767.500" cy="2032" r="41" fill="#e6e8f0" opacity=".45"/><circle cx="767.500" cy="2032" r="31" fill="#dfe4ee" opacity=".8"/><circle cx="767.500" cy="2032" r="22" fill="#FF6FA3"/>
<text x="600" y="2026" font-size="46" font-weight="700" fill="#e2e3e8" text-anchor="middle" style="font-family:'DejaVu Sans',sans-serif" textLength="144" lengthAdjust="spacingAndGlyphs">مستقل</text>
<text x="528" y="2047" font-size="22" font-weight="700" fill="#e2e3e8" textLength="144" lengthAdjust="spacingAndGlyphs">mostaql.com</text>
</svg>
</body></html>
